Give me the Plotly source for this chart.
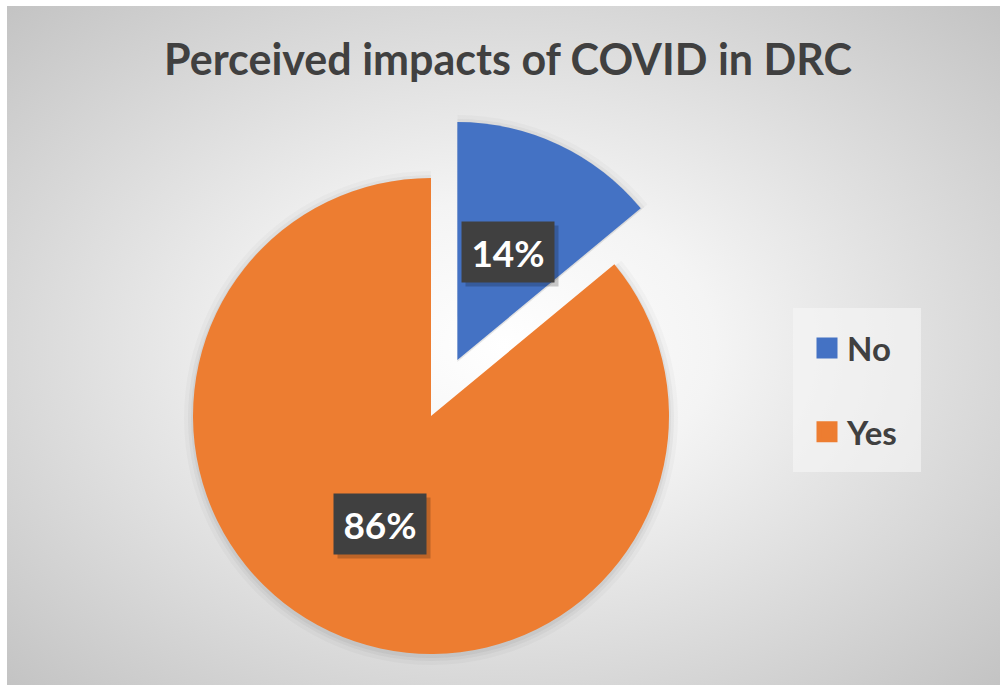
import base64
import math
import plotly.graph_objects as go

# ---------------- data ----------------
labels = ["No", "Yes"]
values = [14, 86]
colors = ["#4472C4", "#ED7D31"]
pulls = [0.26, 0.0]
title_text = "Perceived impacts of COVID in DRC"

# ---------------- geometry / style ----------------
W, H = 1000, 687
FRAME = (7, 6, 1000, 685)                # chart-area rectangle in px (x0, y0, x1, y1)
LEGEND_BOX = (793, 308, 921, 472)        # legend background rectangle in px
PIE_CX, PIE_CY, PIE_R = 431, 416, 238    # un-pulled pie centre and radius (px)
LABEL_FRAC = 0.5
FONT = "Lato"
TEXT_DARK = "#404040"
SHADOWS = [(9, "rgba(0,0,0,0.025)"), (5, "rgba(0,0,0,0.035)"), (2, "rgba(0,0,0,0.045)")]

# radial gradient background (chart area)
fw, fh = FRAME[2] - FRAME[0], FRAME[3] - FRAME[1]
svg = (
    f'<svg xmlns="http://www.w3.org/2000/svg" width="{fw}" height="{fh}" '
    f'viewBox="0 0 {fw} {fh}" preserveAspectRatio="none"><defs>'
    '<radialGradient id="g" cx="0.5" cy="0.5" r="0.71">'
    '<stop offset="0" stop-color="#ffffff"/>'
    '<stop offset="0.3" stop-color="#f4f4f4"/>'
    '<stop offset="1" stop-color="#c3c3c3"/>'
    '</radialGradient></defs>'
    f'<rect width="{fw}" height="{fh}" fill="url(#g)"/></svg>'
)
bg_src = "data:image/svg+xml;base64," + base64.b64encode(svg.encode()).decode()

fig = go.Figure()

total = float(sum(values))
cum = 0.0
centres = []
mids = []
for i, v in enumerate(values):
    mid = math.radians(360.0 * (cum + v / 2.0) / total)   # clockwise from 12 o'clock
    cum += v
    off = pulls[i] * PIE_R
    centres.append((PIE_CX + off * math.sin(mid), PIE_CY - off * math.cos(mid)))
    mids.append(mid)


def domain(cx, cy, r):
    return dict(x=[(cx - r) / W, (cx + r) / W], y=[1 - (cy + r) / H, 1 - (cy - r) / H])


# soft shadows under the slices
for grow, shade in SHADOWS:
    for i in range(len(values)):
        cx, cy = centres[i]
        sc = [shade if j == i else "rgba(0,0,0,0)" for j in range(len(values))]
        fig.add_trace(go.Pie(
            labels=labels, values=values, sort=False, direction="clockwise", rotation=0,
            marker=dict(colors=sc, line=dict(width=0)), textinfo="none",
            hoverinfo="skip", showlegend=False, domain=domain(cx, cy + 2, PIE_R + grow),
        ))

annotations = []
for i, (lab, v) in enumerate(zip(labels, values)):
    cx, cy = centres[i]
    mid = mids[i]
    slice_colors = [c if j == i else "rgba(0,0,0,0)" for j, c in enumerate(colors)]
    fig.add_trace(go.Pie(
        labels=labels, values=values, sort=False, direction="clockwise", rotation=0,
        marker=dict(colors=slice_colors, line=dict(width=0)),
        textinfo="none", hoverinfo="label+percent", showlegend=False,
        domain=domain(cx, cy, PIE_R),
    ))
    pct = f"{round(100 * v / total)}%"
    xs = LABEL_FRAC * PIE_R * math.sin(mid)
    ys = LABEL_FRAC * PIE_R * math.cos(mid)
    # soft shadow behind the label box
    annotations.append(dict(
        x=cx / W, y=1 - cy / H, xref="paper", yref="paper", showarrow=False,
        xshift=xs + 4, yshift=ys - 4, text="&nbsp;", width=80, height=48, borderpad=6,
        bgcolor="rgba(0,0,0,0.20)", font=dict(family=FONT, size=37),
    ))
    annotations.append(dict(
        x=cx / W, y=1 - cy / H, xref="paper", yref="paper", showarrow=False,
        xshift=xs, yshift=ys, text=f"<b>{pct}</b>", width=80, height=48, borderpad=6,
        bgcolor="#404040", font=dict(family=FONT, size=37, color="white"),
    ))

# legend entries
for lab, c in zip(labels, colors):
    fig.add_trace(go.Scatter(
        x=[None], y=[None], mode="markers", name=f"<b>{lab}</b>", legendgroup=lab,
        marker=dict(symbol="square", size=16, color=c, line=dict(width=5, color=c)),
        hoverinfo="skip",
    ))

fig.update_layout(
    width=W, height=H,
    margin=dict(l=0, r=0, t=0, b=0),
    paper_bgcolor="white", plot_bgcolor="rgba(0,0,0,0)",
    xaxis=dict(visible=False), yaxis=dict(visible=False),
    images=[dict(source=bg_src, xref="paper", yref="paper",
                 x=FRAME[0] / W, y=1 - FRAME[1] / H,
                 sizex=fw / W, sizey=fh / H, sizing="stretch",
                 xanchor="left", yanchor="top", layer="below")],
    shapes=[dict(type="rect", xref="paper", yref="paper", layer="below",
                 x0=LEGEND_BOX[0] / W, x1=LEGEND_BOX[2] / W,
                 y0=1 - LEGEND_BOX[3] / H, y1=1 - LEGEND_BOX[1] / H,
                 fillcolor="rgba(246,246,246,0.6)", line=dict(width=0))],
    title=dict(text=f"<b>{title_text}</b>", x=0.508, xanchor="center",
               y=1 - 60 / H, yanchor="middle",
               font=dict(family=FONT, size=43, color=TEXT_DARK)),
    legend=dict(x=0.807, y=1 - 320 / H, xanchor="left", yanchor="top",
                bgcolor="rgba(0,0,0,0)", borderwidth=0,
                font=dict(family=FONT, size=33, color=TEXT_DARK),
                tracegroupgap=38, itemclick=False, itemdoubleclick=False),
    annotations=annotations,
    showlegend=True,
)

fig.write_html("out.html", config={"displayModeBar": False},
               post_script="document.body.style.margin='0';")
